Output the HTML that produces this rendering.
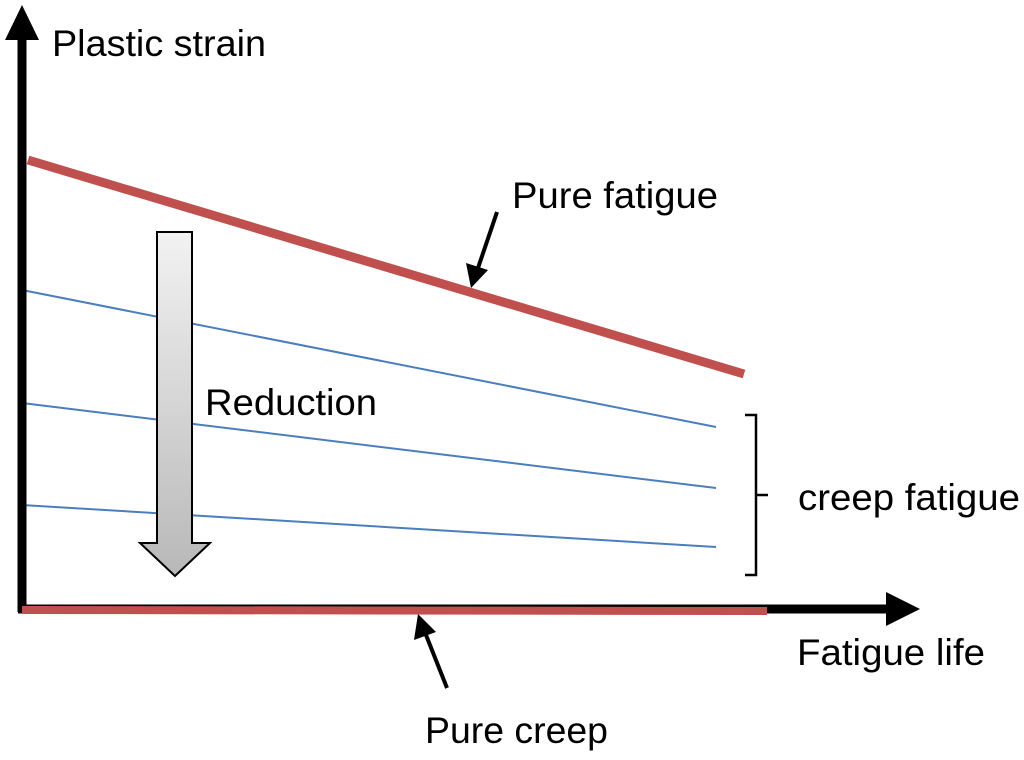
<!DOCTYPE html>
<html><head><meta charset="utf-8"><style>
html,body{margin:0;padding:0;background:#fff;}
svg text{font-family:"Liberation Sans",sans-serif;font-size:37px;fill:#000;}
</style></head><body>
<svg width="1024" height="755" viewBox="0 0 1024 755" xmlns="http://www.w3.org/2000/svg">
<defs>
<linearGradient id="g" x1="0" y1="0" x2="0" y2="1">
<stop offset="0" stop-color="#f2f2f2"/><stop offset="1" stop-color="#b8b8b8"/>
</linearGradient>
</defs>
<g stroke="#4a7ebf" stroke-width="2">
<line x1="22" y1="290" x2="716" y2="427"/>
<line x1="22" y1="403" x2="716" y2="488"/>
<line x1="22" y1="505" x2="716" y2="547"/>
</g>
<line x1="28" y1="160" x2="744" y2="374" stroke="#c0504d" stroke-width="9"/>
<line x1="22" y1="612" x2="22" y2="35" stroke="#000" stroke-width="9"/>
<polygon points="22,5 5,40 39,40" fill="#000"/>
<line x1="18" y1="609" x2="890" y2="609" stroke="#000" stroke-width="9"/>
<polygon points="920,609 886,592 886,626" fill="#000"/>
<line x1="22" y1="610" x2="767" y2="611" stroke="#c0504d" stroke-width="8"/>
<polygon points="157,232 192,232 192,543 210,543 175,576 140,543 157,543" fill="url(#g)" stroke="#000" stroke-width="2"/>
<path d="M745,415 H756 V575 H745 M756,495 H768" fill="none" stroke="#000" stroke-width="2.5"/>
<line x1="497" y1="212" x2="478" y2="268" stroke="#000" stroke-width="4"/>
<polygon points="471,288 466,263 488,270" fill="#000"/>
<line x1="447" y1="688" x2="426" y2="635" stroke="#000" stroke-width="4"/>
<polygon points="418,614 414,640 436,632" fill="#000"/>
<text x="52" y="56" textLength="214" lengthAdjust="spacingAndGlyphs">Plastic strain</text>
<text x="512" y="208" textLength="206" lengthAdjust="spacingAndGlyphs">Pure fatigue</text>
<text x="205" y="415" textLength="172" lengthAdjust="spacingAndGlyphs">Reduction</text>
<text x="798" y="510" textLength="222" lengthAdjust="spacingAndGlyphs">creep fatigue</text>
<text x="797" y="665" textLength="188" lengthAdjust="spacingAndGlyphs">Fatigue life</text>
<text x="425" y="743" textLength="183" lengthAdjust="spacingAndGlyphs">Pure creep</text>
</svg>
</body></html>
